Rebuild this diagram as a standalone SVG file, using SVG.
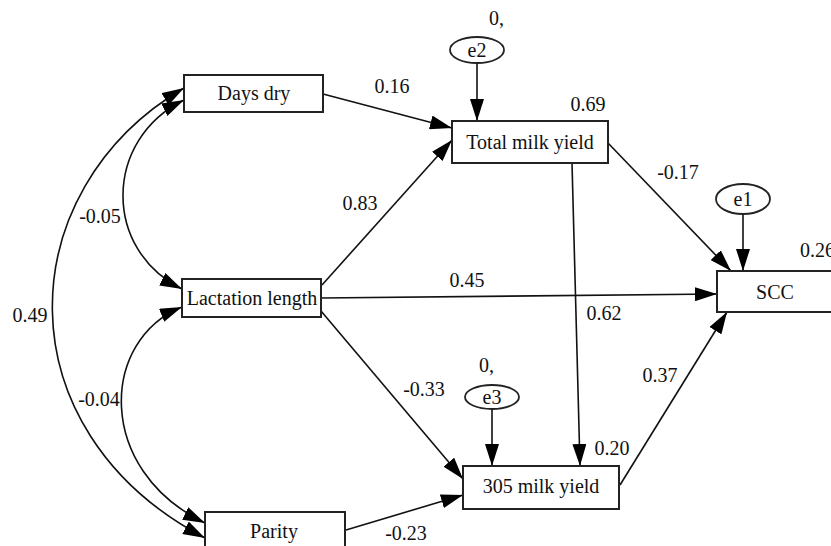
<svg xmlns="http://www.w3.org/2000/svg" width="831" height="546" viewBox="0 0 831 546">
<style>
.box{fill:#fff;stroke:#222;stroke-width:2}
.ell{fill:#fff;stroke:#222;stroke-width:1.8}
text{font-family:'Liberation Serif','Times New Roman',Times,serif;font-size:20px;fill:#111}
.m{text-anchor:middle}
.c{fill:none;stroke:#111;stroke-width:1.6}
</style>
<defs>
<marker id="ah" markerUnits="userSpaceOnUse" markerWidth="22" markerHeight="14" refX="22" refY="7" orient="auto-start-reverse">
<path d="M0,0 L22,7 L0,14 z" fill="#000"/>
</marker>
</defs>
<rect width="831" height="546" fill="#fff"/>
<g id="connectors">
<path class="c" d="M323,94 L452,128" marker-end="url(#ah)"/>
<path class="c" d="M477,63 L477,121" marker-end="url(#ah)"/>
<path class="c" d="M322,285 L452,140" marker-end="url(#ah)"/>
<path class="c" d="M321,298 L717,294" marker-end="url(#ah)"/>
<path class="c" d="M321,311 L463,479" marker-end="url(#ah)"/>
<path class="c" d="M346,530 L463,495" marker-end="url(#ah)"/>
<path class="c" d="M572,163 L580,466" marker-end="url(#ah)"/>
<path class="c" d="M608,143 L731,271" marker-end="url(#ah)"/>
<path class="c" d="M743,214 L743,271" marker-end="url(#ah)"/>
<path class="c" d="M492,409 L492,466" marker-end="url(#ah)"/>
<path class="c" d="M620,485 L727,312" marker-end="url(#ah)"/>
<path class="c" d="M184,100 C103,140 103,250 182,289" marker-start="url(#ah)" marker-end="url(#ah)"/>
<path class="c" d="M184,88 C10,190 0,430 205,538" marker-start="url(#ah)" marker-end="url(#ah)"/>
<path class="c" d="M182,307 C100,340 95,470 205,523" marker-start="url(#ah)" marker-end="url(#ah)"/>
</g>
<g font-family="Liberation Serif, serif">
<g id="days-dry"><rect class="box" x="184" y="75" width="139" height="37"/><text class="m" x="254" y="100">Days dry</text></g>
<g id="total-milk-yield"><rect class="box" x="452" y="121" width="156" height="42"/><text class="m" x="530" y="149">Total milk yield</text></g>
<g id="lactation-length"><rect class="box" x="182" y="279" width="139" height="38"/><text class="m" x="252" y="305">Lactation length</text></g>
<g id="scc"><rect class="box" x="717" y="271" width="116" height="41"/><text class="m" x="775" y="299">SCC</text></g>
<g id="milk-305"><rect class="box" x="463" y="466" width="156" height="43"/><text class="m" x="541" y="493">305 milk yield</text></g>
<g id="parity"><rect class="box" x="205" y="512" width="140" height="50"/><text class="m" x="274" y="538">Parity</text></g>
<g id="e2"><ellipse class="ell" cx="477" cy="50" rx="27" ry="13"/><text class="m" x="477" y="57">e2</text></g>
<g id="e1"><ellipse class="ell" cx="743" cy="199" rx="27" ry="15"/><text class="m" x="743" y="206">e1</text></g>
<g id="e3"><ellipse class="ell" cx="492" cy="397" rx="27" ry="12"/><text class="m" x="492" y="404">e3</text></g>
<g id="labels">
<text x="489" y="25">0,</text>
<text class="m" x="588" y="111">0.69</text>
<text class="m" x="392" y="93">0.16</text>
<text class="m" x="360" y="210">0.83</text>
<text class="m" x="678" y="179">-0.17</text>
<text x="800" y="257">0.26</text>
<text class="m" x="467" y="287">0.45</text>
<text class="m" x="604" y="320">0.62</text>
<text class="m" x="660" y="382">0.37</text>
<text class="m" x="424" y="396">-0.33</text>
<text x="479" y="372">0,</text>
<text class="m" x="612" y="455">0.20</text>
<text class="m" x="406" y="540">-0.23</text>
<text class="m" x="100" y="223">-0.05</text>
<text class="m" x="30" y="322">0.49</text>
<text class="m" x="99" y="406">-0.04</text>
</g>
</g>
</svg>
